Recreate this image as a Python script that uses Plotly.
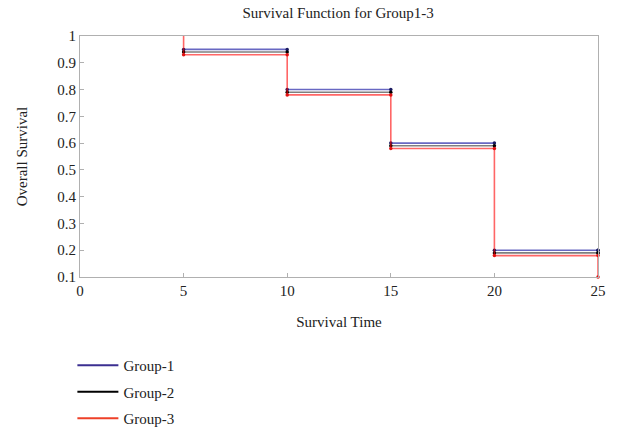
import plotly.graph_objects as go

time_points = [0, 5, 10, 15, 20, 25]
group1 = [1.0, 0.95, 0.80, 0.60, 0.20, 0.20]
group2 = [1.0, 0.94, 0.79, 0.59, 0.19, 0.19]
group3 = [1.0, 0.93, 0.78, 0.58, 0.18, 0.10]
names = ["Group-1", "Group-2", "Group-3"]
colors = ["rgba(40,40,170,0.7)", "rgba(0,0,0,0.5)", "rgba(255,0,0,0.6)"]
legend_colors = ["#3b2f91", "#000000", "#ee4028"]
marker_colors = ["#1a1a60", "#000000", "#e01010"]
draw_vertical = [False, False, True]

font = "Liberation Serif"

fig = go.Figure()
series = [group1, group2, group3]
for k, s in enumerate(series):
    xs, ys = [], []
    mx, my = [], []
    for i in range(1, len(time_points)):
        prev = s[i - 1]
        if draw_vertical[k]:
            xs += [time_points[i], time_points[i]]
            ys += [prev, s[i]]
        if i < len(time_points) - 1:
            if not draw_vertical[k]:
                xs += [time_points[i], time_points[i + 1], None]
                ys += [s[i], s[i], None]
            else:
                xs += [time_points[i + 1]]
                ys += [s[i]]
        mx.append(time_points[i]); my.append(s[i])
        if i < len(time_points) - 1:
            mx.append(time_points[i + 1]); my.append(s[i])
    fig.add_trace(go.Scatter(
        x=xs, y=ys, mode="lines", name=names[k], showlegend=False,
        line=dict(color=colors[k], width=1.6),
        hoverinfo="skip",
    ))
    fig.add_trace(go.Scatter(
        x=mx, y=my, mode="markers", showlegend=False,
        marker=dict(color=marker_colors[k], size=3.5),
        hoverinfo="skip", cliponaxis=False,
    ))

for k in range(3):
    fig.add_trace(go.Scatter(
        x=[None], y=[None], mode="lines", name=names[k],
        legendgroup=names[k],
        line=dict(color=legend_colors[k], width=2),
    ))

fig.update_layout(
    width=617, height=430,
    margin=dict(l=80, r=19, t=36, b=153),
    paper_bgcolor="white", plot_bgcolor="white",
    font=dict(family=font, size=15, color="#222"),
    title=dict(text="Survival Function for Group1-3", x=0.548, xanchor="center",
               y=0.970, yanchor="middle", font=dict(size=15, family=font, color="#222")),
    showlegend=True,
    legend=dict(x=-0.0147, y=0.1884, xanchor="left", yanchor="top",
                xref="paper", yref="container", itemwidth=41,
                font=dict(size=15, family=font, color="#222"),
                tracegroupgap=4, bgcolor="rgba(0,0,0,0)"),
    xaxis=dict(range=[0, 25], tickvals=[0, 5, 10, 15, 20, 25],
               showgrid=False, zeroline=False, showline=True, mirror=True,
               linecolor="#b0b0b0", linewidth=1, ticks="inside", ticklen=4,
               tickcolor="#b0b0b0",
               title=dict(text="Survival Time", standoff=18,
                          font=dict(size=15, family=font, color="#222")),
               tickfont=dict(size=15, family=font, color="#222")),
    yaxis=dict(range=[0.1, 1], tickvals=[0.1, 0.2, 0.3, 0.4, 0.5, 0.6, 0.7, 0.8, 0.9, 1],
               ticktext=["0.1", "0.2", "0.3", "0.4", "0.5", "0.6", "0.7", "0.8", "0.9", "1"],
               showgrid=False, zeroline=False, showline=True, mirror=True,
               linecolor="#b0b0b0", linewidth=1, ticks="inside", ticklen=4,
               tickcolor="#b0b0b0",
               title=dict(text="Overall Survival", standoff=26,
                          font=dict(size=15, family=font, color="#222")),
               tickfont=dict(size=15, family=font, color="#222")),
)

fig.write_html("out.html", config={"displayModeBar": False},
               post_script="document.body.style.margin='0';")
